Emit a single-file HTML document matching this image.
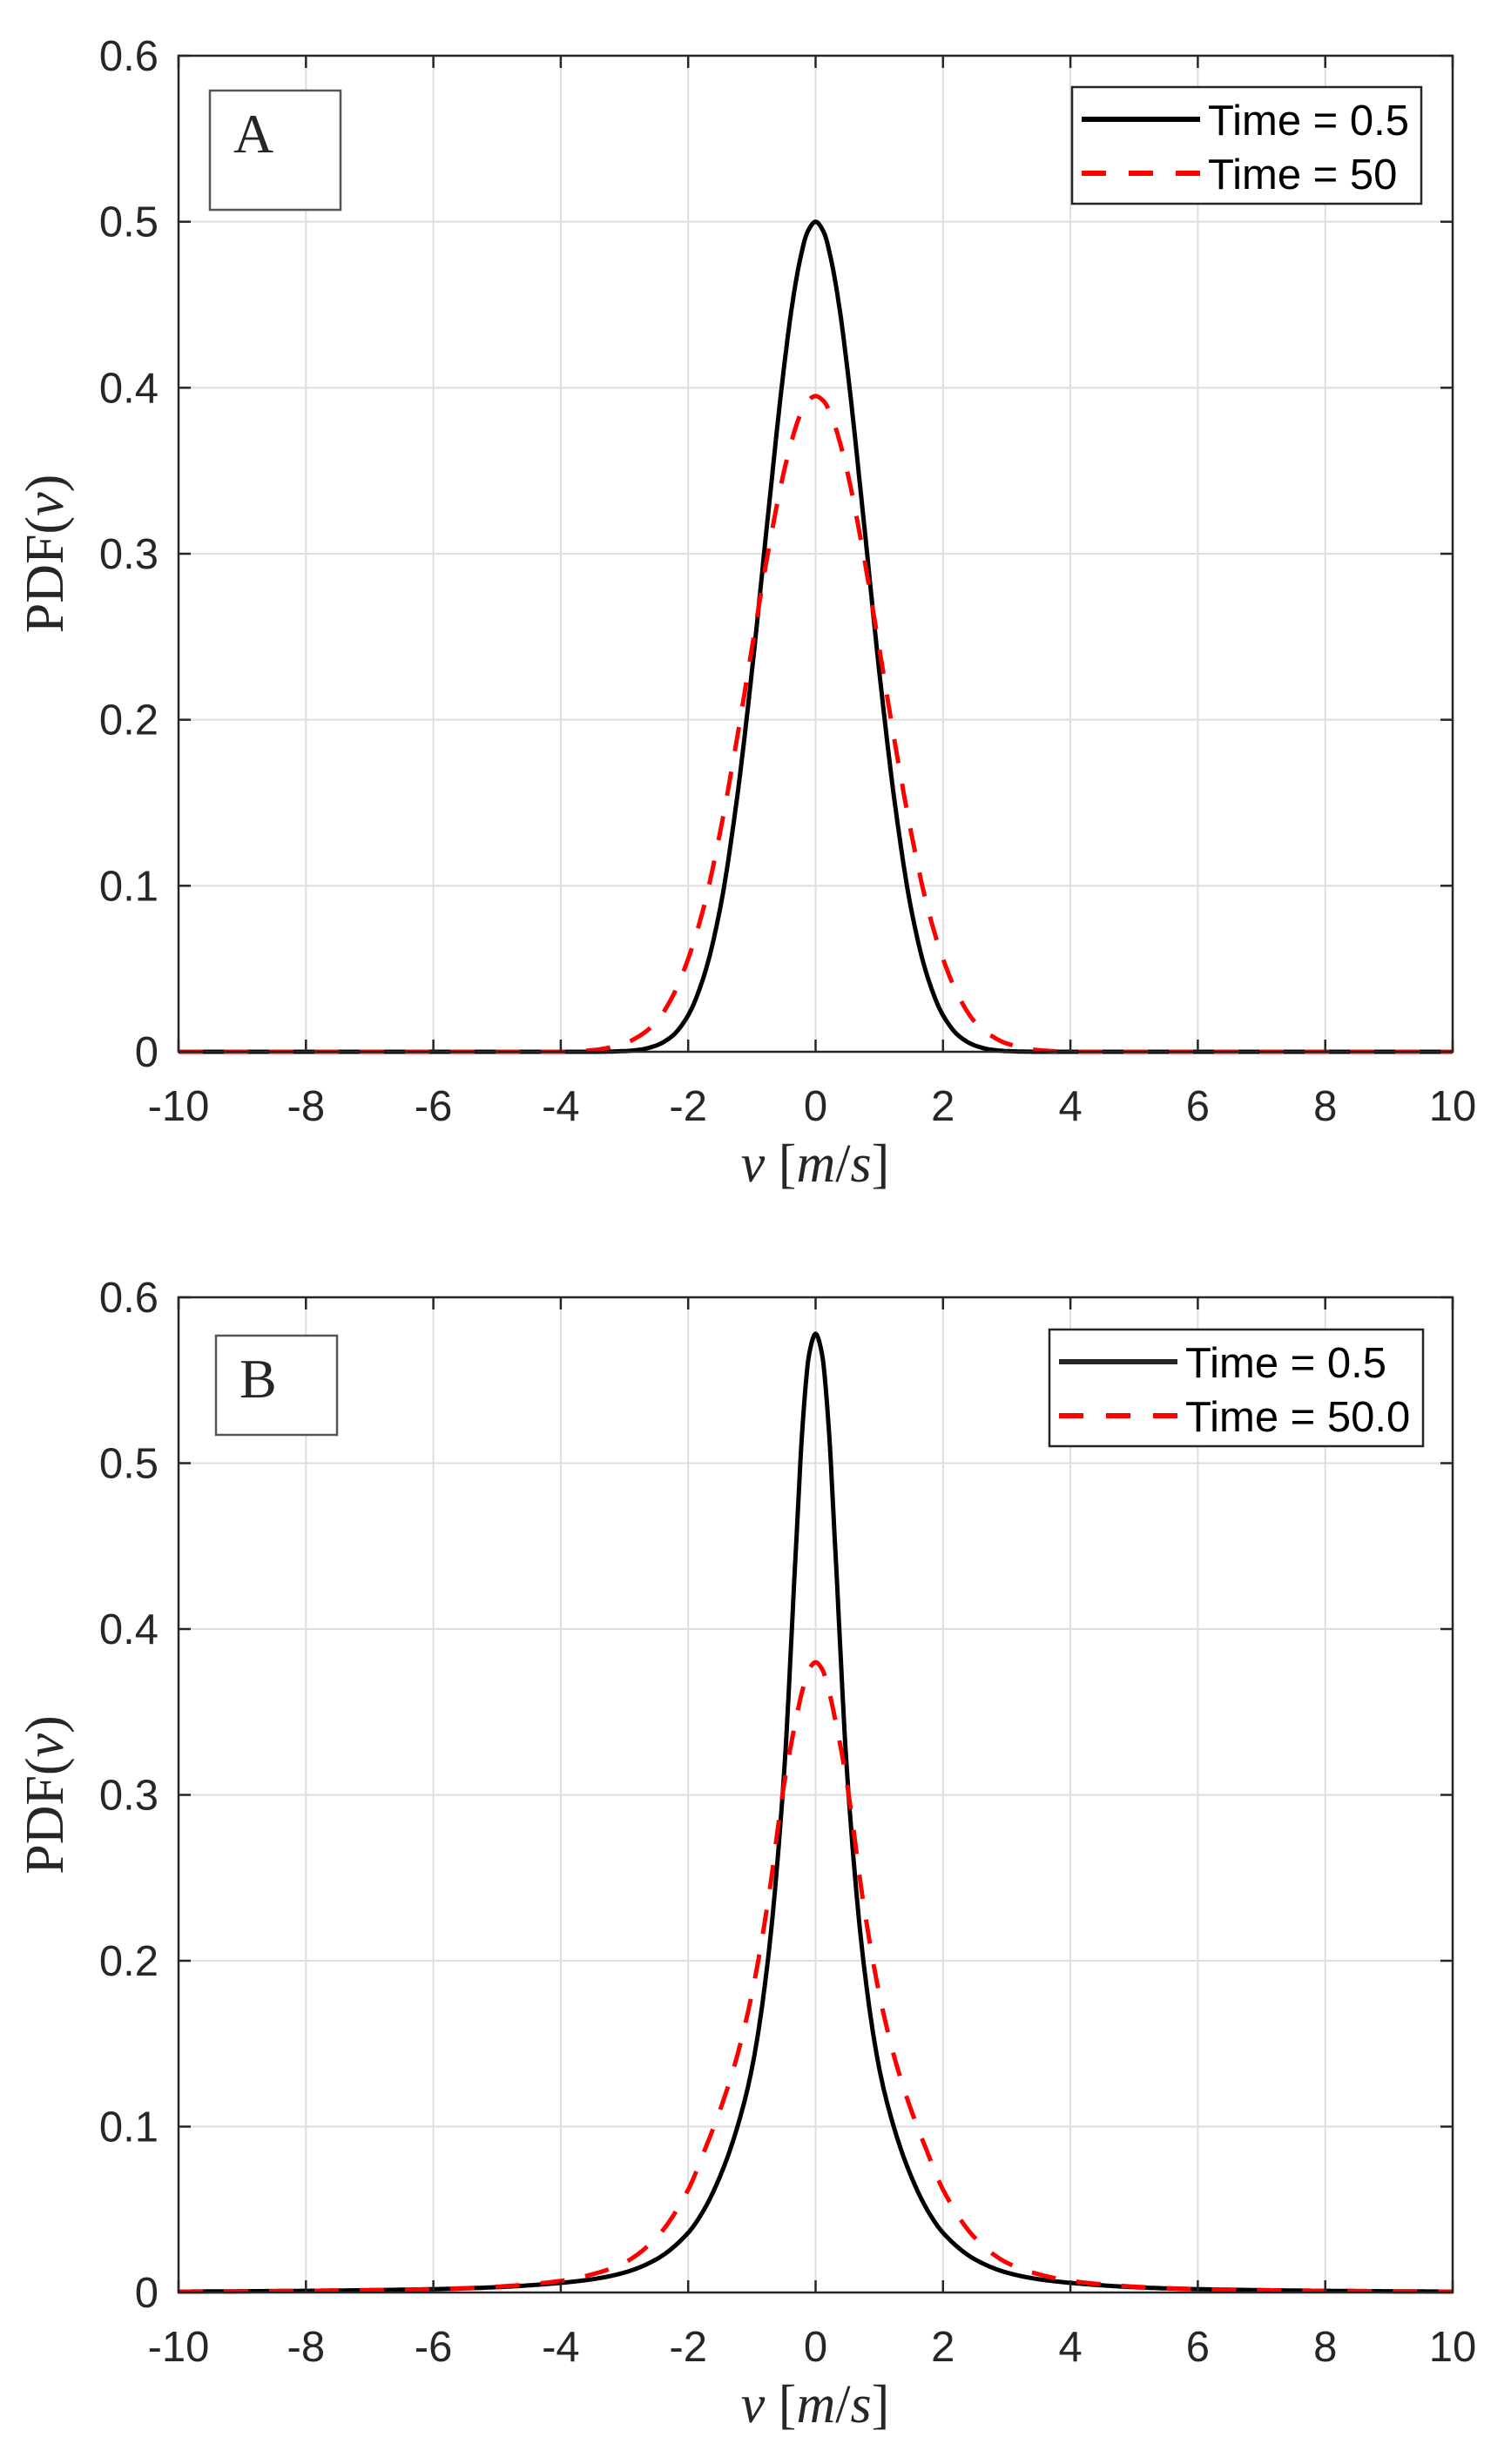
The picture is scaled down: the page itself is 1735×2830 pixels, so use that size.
<!DOCTYPE html>
<html><head><meta charset="utf-8"><style>
html,body{margin:0;padding:0;background:#fff;}
svg{display:block;}
.tick{font-family:"Liberation Sans",sans-serif;font-size:49px;fill:#262626;}
.serif{font-family:"Liberation Serif",serif;fill:#262626;}
.leg{font-family:"Liberation Sans",sans-serif;font-size:49px;fill:#000;}
</style></head><body>
<svg id="fig" width="1735" height="2830" viewBox="0 0 1735 2830" xmlns="http://www.w3.org/2000/svg"></svg>
<script>
// ---- data (one-sided, mirrored about v=0) ----
const xTicks = [-10,-8,-6,-4,-2,0,2,4,6,8,10];
const yTicks = [0,0.1,0.2,0.3,0.4,0.5,0.6];
const yTickLabels = ["0","0.1","0.2","0.3","0.4","0.5","0.6"];
const vA = [0,0.125,0.25,0.375,0.5,0.75,1,1.25,1.5,1.75,2,2.25,2.5,2.75,3,3.5,4,6,8,10];
const aBlack = [0.5,0.494,0.476,0.448,0.411,0.322,0.229,0.148,0.086,0.046,0.022,0.0095,0.0038,0.0013,0.0004,0,0,0,0,0];
const aRed = [0.395,0.392,0.383,0.368,0.349,0.300,0.243,0.185,0.132,0.088,0.056,0.033,0.018,0.0099,0.005,0.001,0,0,0,0];
const vB = [0,0.1,0.2,0.3,0.5,0.75,1,1.25,1.5,1.75,2,2.5,3,3.5,4,5,6,8,10];
const bBlack = [0.578,0.566,0.525,0.455,0.31,0.2,0.135,0.097,0.07,0.05,0.036,0.02,0.012,0.008,0.0058,0.0032,0.002,0.001,0.0005];
const bRed = [0.38,0.376,0.364,0.347,0.305,0.235,0.18,0.14,0.11,0.085,0.062,0.033,0.018,0.011,0.007,0.0035,0.002,0.001,0.0005];

const NS="http://www.w3.org/2000/svg";
const svg=document.getElementById('fig');
function mk(tag,attrs,parent){const e=document.createElementNS(NS,tag);for(const k in attrs)e.setAttribute(k,attrs[k]);(parent||svg).appendChild(e);return e;}

function mirror(xs,ys){const X=[],Y=[];for(let i=xs.length-1;i>0;i--){X.push(-xs[i]);Y.push(ys[i]);}for(let i=0;i<xs.length;i++){X.push(xs[i]);Y.push(ys[i]);}return [X,Y];}
function monotone(X,Y){const n=X.length,d=[],m=new Array(n);
 for(let i=0;i<n-1;i++)d.push((Y[i+1]-Y[i])/(X[i+1]-X[i]));
 m[0]=d[0];m[n-1]=d[n-2];
 for(let i=1;i<n-1;i++){if(d[i-1]*d[i]<=0)m[i]=0;else{const h0=X[i]-X[i-1],h1=X[i+1]-X[i];const w1=2*h1+h0,w2=h1+2*h0;m[i]=(w1+w2)/(w1/d[i-1]+w2/d[i]);}}
 return function(x){let i=0;while(i<n-2&&x>X[i+1])i++;const h=X[i+1]-X[i],t=(x-X[i])/h;
  const h00=2*t*t*t-3*t*t+1,h10=t*t*t-2*t*t+t,h01=-2*t*t*t+3*t*t,h11=t*t*t-t*t;
  return h00*Y[i]+h10*h*m[i]+h01*Y[i+1]+h11*h*m[i+1];};}

function panel(cfg){
 const L=205,R=1668,T=cfg.top,B=cfg.bottom;
 const g=mk('g',{});
 
 
 const sx=v=>L+(v+10)/20*(R-L);
 const sy=p=>B-p/0.6*(B-T);
 xTicks.forEach(t=>{const l=mk('line',{x1:sx(t),x2:sx(t),y1:T,y2:B,stroke:'#dedede','stroke-width':2},g);
  
  });
 yTicks.forEach(t=>{const l=mk('line',{x1:L,x2:R,y1:sy(t),y2:sy(t),stroke:'#dedede','stroke-width':2},g);
  
  });
 const series=[[cfg.black,'#000',null,'black-curve'],[cfg.red,'#ff0000','28 24','red-dashed-curve']];
 series.forEach(s=>{const [X,Y]=mirror(cfg.v,s[0]);const f=monotone(X,Y);
  let d='';for(let x=-10;x<=10.0001;x+=0.02){const y=Math.max(0,f(x));d+=(d?'L':'M')+sx(x).toFixed(1)+' '+sy(y).toFixed(1);}
  const a={d:d,fill:'none',stroke:s[1],'stroke-width':5,'stroke-linejoin':'round'};if(s[2])a['stroke-dasharray']=s[2];
  const p=mk('path',a,g);
  
  });
 const box=mk('rect',{x:L,y:T,width:R-L,height:B-T,fill:'none',stroke:'#262626','stroke-width':2.5},g);
 
 
 xTicks.forEach(t=>{mk('line',{x1:sx(t),x2:sx(t),y1:B,y2:B-14,stroke:'#262626','stroke-width':2.5},g);mk('line',{x1:sx(t),x2:sx(t),y1:T,y2:T+14,stroke:'#262626','stroke-width':2.5},g);
  const tx=mk('text',{x:sx(t),y:B+79,'text-anchor':'middle',class:'tick'},g);tx.textContent=String(t);
  
  });
 yTicks.forEach((t,i)=>{mk('line',{x1:L,x2:L+14,y1:sy(t),y2:sy(t),stroke:'#262626','stroke-width':2.5},g);mk('line',{x1:R,x2:R-14,y1:sy(t),y2:sy(t),stroke:'#262626','stroke-width':2.5},g);
  const tx=mk('text',{x:182,y:sy(t)+17,'text-anchor':'end',class:'tick'},g);tx.textContent=yTickLabels[i];
  
  });
 const lb=mk('rect',{x:cfg.lab[0],y:cfg.lab[1],width:cfg.lab[2],height:cfg.lab[3],fill:'#fff',stroke:'#555','stroke-width':2.5},g);
 
 
 const lt=mk('text',{x:cfg.lab[0]+27,y:cfg.lab[1]+71,class:'serif','font-size':64,fill:'#000'},g);lt.textContent=cfg.letter;
 
 
 const lg=mk('g',{},g);
 
 
 mk('rect',{x:cfg.leg[0],y:cfg.leg[1],width:cfg.leg[2],height:cfg.leg[3],fill:'#fff',stroke:'#262626','stroke-width':2.5},lg);
 const lx=cfg.leg[0]+11, ly=cfg.leg[1];
 mk('line',{x1:lx,x2:lx+136,y1:ly+37,y2:ly+37,stroke:cfg.letter==='B'?'#262626':'#000','stroke-width':6},lg);
 mk('line',{x1:lx,x2:lx+136,y1:ly+99,y2:ly+99,stroke:'#ff0000','stroke-width':6,'stroke-dasharray':'28 26'},lg);
 const t1=mk('text',{x:lx+145,y:ly+55,class:'leg'},lg);t1.textContent='Time = 0.5';
 
 
 const t2=mk('text',{x:lx+145,y:ly+117,class:'leg'},lg);t2.textContent=cfg.redLabel;
 
 
 const xl=mk('text',{x:936,y:B+149,'text-anchor':'middle',class:'serif','font-size':62},g);
 xl.innerHTML='<tspan font-style="italic">v</tspan>  [<tspan font-style="italic">m</tspan>/<tspan font-style="italic">s</tspan>]';
 xl.setAttribute('xml:space','preserve');
 
 
 const cy=(T+B)/2;
 const yl=mk('text',{x:0,y:0,'text-anchor':'middle',class:'serif','font-size':62,transform:'translate(72,'+cy+') rotate(-90)'},g);
 yl.innerHTML='PDF(<tspan font-style="italic">v</tspan>)';
 
 
}
panel({name:'panel-a',top:64,bottom:1208,v:vA,black:aBlack,red:aRed,letter:'A',lab:[241,104,150,137],leg:[1231,100,401,134],redLabel:'Time = 50'});
panel({name:'panel-b',top:1490,bottom:2633,v:vB,black:bBlack,red:bRed,letter:'B',lab:[248,1534,139,114],leg:[1205,1527,429,134],redLabel:'Time = 50.0'});
</script>
</body></html>
